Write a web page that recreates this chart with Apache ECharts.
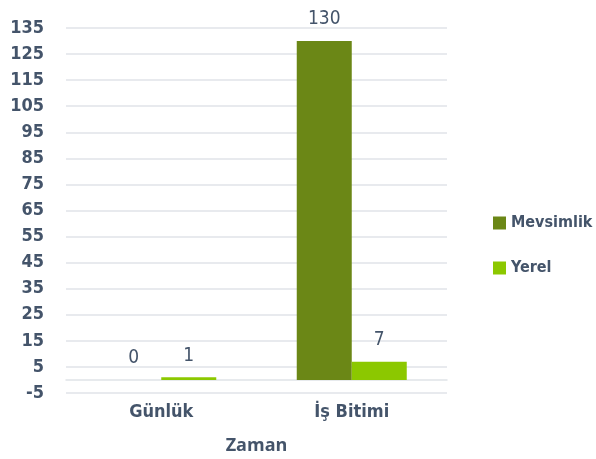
<!DOCTYPE html>
<html>
<head>
<meta charset="utf-8">
<script src="https://cdn.jsdelivr.net/npm/echarts@6/dist/echarts.min.js"></script>
<style>
  html, body { margin: 0; padding: 0; background: #fff; }
  #chart { width: 596px; height: 459px; }
</style>
</head>
<body>
<div id="chart"></div>
<script>
var categories = ['Günlük', 'İş Bitimi'];
var mevsimlik = [0, 130];
var yerel = [1, 7];
var yTicks = [-5, 5, 15, 25, 35, 45, 55, 65, 75, 85, 95, 105, 115, 125, 135];

var textColor = '#44546a';
var gridColor = '#e0e3e8';
var condensed = "'DejaVu Sans Condensed', Roboto, sans-serif";

var chart = echarts.init(document.getElementById('chart'));

var labelStyle = {
    show: true,
    position: 'top',
    distance: 12,
    color: textColor,
    fontFamily: condensed,
    fontSize: 19
};

var option = {
    animation: false,
    grid: { left: 66, right: 149, top: 28, bottom: 66, outerBoundsMode: 'none', containLabel: false },
    legend: {
        orient: 'vertical',
        left: 488,
        top: 210,
        itemWidth: 13,
        itemHeight: 13,
        itemGap: 29,
        icon: 'rect',
        textStyle: { color: textColor, fontFamily: condensed, fontWeight: 'bold', fontSize: 16 },
        data: ['Mevsimlik', 'Yerel']
    },
    xAxis: {
        type: 'category',
        data: categories,
        name: 'Zaman',
        nameLocation: 'middle',
        nameGap: 44,
        nameTextStyle: { color: textColor, fontFamily: 'Open Sans', fontWeight: 'bold', fontSize: 18 },
        axisLine: { onZero: true, lineStyle: { color: gridColor, width: 1.5 } },
        axisTick: { show: false },
        axisLabel: { margin: 10, color: textColor, fontFamily: condensed, fontWeight: 'bold', fontSize: 18 }
    },
    yAxis: {
        type: 'value',
        min: -5,
        max: 135,
        interval: 10,
        axisLine: { show: false },
        axisTick: { show: false },
        axisLabel: {
            margin: 22,
            color: textColor,
            fontFamily: condensed,
            fontWeight: 'bold',
            fontSize: 18,
            customValues: yTicks
        },
        splitLine: { lineStyle: { color: gridColor, width: 1.5 } }
    },
    series: [
        {
            name: 'Mevsimlik',
            type: 'bar',
            data: mevsimlik,
            barWidth: 55,
            barGap: '0%',
            itemStyle: { color: '#6b8716' },
            label: labelStyle
        },
        {
            name: 'Yerel',
            type: 'bar',
            data: yerel,
            barWidth: 55,
            barGap: '0%',
            itemStyle: { color: '#8cc800' },
            label: labelStyle
        }
    ]
};

chart.setOption(option);
</script>
</body>
</html>
